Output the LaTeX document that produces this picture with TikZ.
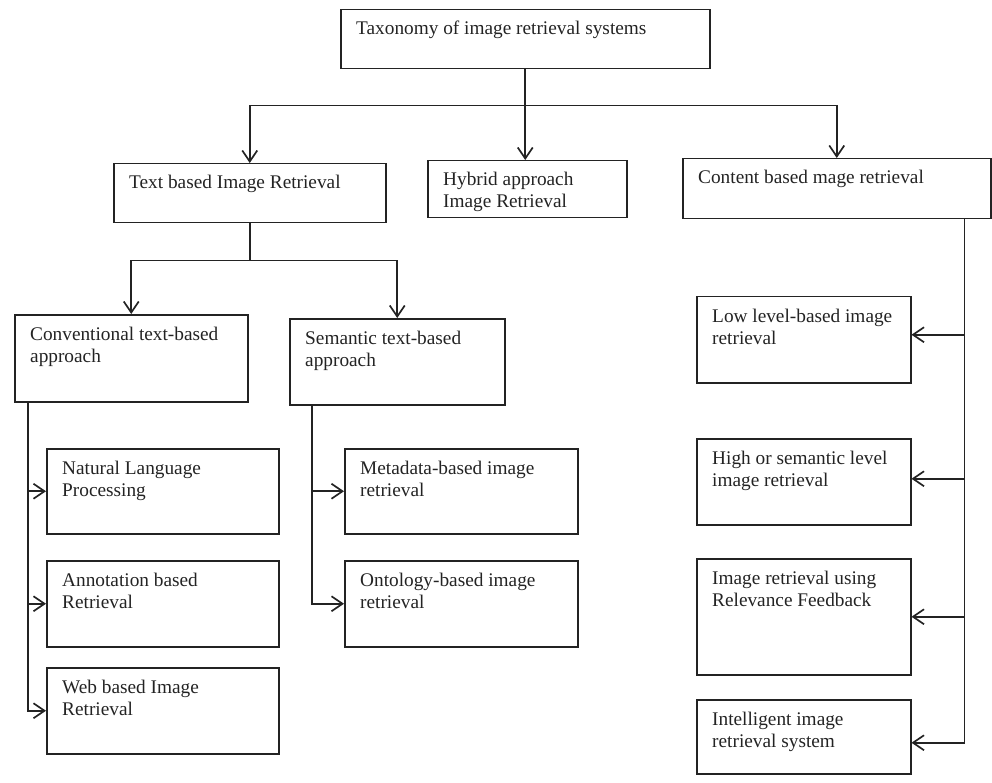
\documentclass[tikz,border=0pt]{standalone}
\usepackage{fontspec}
\setmainfont{Liberation Serif}
\usetikzlibrary{arrows.meta}
\definecolor{ink}{RGB}{35,35,35}
\tikzset{
  boxst/.style={draw=ink, line width=1.5pt, rectangle, inner sep=0pt, anchor=north west},
  lbl/.style={inner sep=0pt, anchor=base west, text=ink, font=\fontsize{19.3}{22}\selectfont},
  ln/.style={draw=ink, line width=1.6pt},
  arr/.style={ln, -{Straight Barb[length=11pt,width=15pt,line width=1.7pt]}}
}
\newcommand{\mybox}[6]{%
  \node[boxst, minimum width=#4pt, minimum height=#5pt] (#1) at (#2,-#3) {};
  \node[lbl] (#1t) at ([shift={(16pt,-26pt)}]#1.north west) {\parbox[t]{300pt}{\raggedright #6}};
}
\begin{document}
\begin{tikzpicture}[x=1pt,y=1pt]
\useasboundingbox (0,0) rectangle (992,-783);
\mybox{top}{340}{9}{369}{59}{Taxonomy of image retrieval systems}
\mybox{tbr}{113}{163}{272}{59}{Text based Image Retrieval}
\mybox{hyb}{427}{160}{199}{57}{Hybrid approach\\Image Retrieval}
\mybox{cbr}{682}{158}{308}{60}{Content based mage retrieval}
\mybox{conv}{14}{314}{233}{87}{Conventional text-based\\approach}
\mybox{sem}{289}{318}{215}{86}{Semantic text-based\\approach}
\mybox{nlp}{46}{448}{232}{85}{Natural Language\\Processing}
\mybox{ann}{46}{560}{232}{86}{Annotation based\\Retrieval}
\mybox{web}{46}{667}{232}{86}{Web based Image\\Retrieval}
\mybox{meta}{344}{448}{233}{85}{Metadata-based image\\retrieval}
\mybox{onto}{344}{560}{233}{86}{Ontology-based image\\retrieval}
\mybox{low}{696}{296}{214}{86}{Low level-based image\\retrieval}
\mybox{high}{696}{438}{214}{86}{High or semantic level\\image retrieval}
\mybox{irrf}{696}{558}{214}{116}{Image retrieval using\\Relevance Feedback}
\mybox{intel}{696}{699}{214}{74}{Intelligent image\\retrieval system}

% level 1 bus
\coordinate (b1) at ([yshift=-36pt]top.south);
\draw[ln] (top.south) -- (b1);
\draw[arr] (b1) -| (tbr.north);
\draw[arr] (b1) -- (b1 |- hyb.north);
\draw[arr] (b1) -| (cbr.north);

% text based subtree
\coordinate (b2) at ([yshift=-37pt]tbr.south);
\draw[ln] (tbr.south) -- (b2);
\draw[arr] (b2) -| (conv.north);
\draw[arr] (b2) -| (sem.north);

\coordinate (ct) at ([xshift=14pt]conv.south west);
\draw[arr] (ct) |- (nlp.west);
\draw[arr] (ct) |- (ann.west);
\draw[arr] (ct) |- (web.west);

\coordinate (st) at ([xshift=23pt]sem.south west);
\draw[arr] (st) |- (meta.west);
\draw[arr] (st) |- (onto.west);

% content based subtree
\coordinate (rt) at ([xshift=-27pt]cbr.south east);
\draw[arr] (rt) |- ([yshift=5pt]low.east);
\draw[arr] (rt) |- ([yshift=3pt]high.east);
\draw[arr] (rt) |- (irrf.east);
\draw[arr] (rt) |- ([yshift=-6pt]intel.east);
\end{tikzpicture}
\end{document}
